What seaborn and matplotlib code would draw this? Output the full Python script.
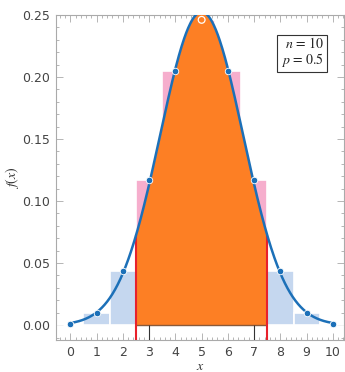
import numpy as np
import pandas as pd
import matplotlib
matplotlib.use("Agg")
import matplotlib.pyplot as plt
import seaborn as sns
from matplotlib.ticker import MultipleLocator

# binomial n=10, p=0.5
n_trials = 10
p_success = 0.5
k_values = [0, 1, 2, 3, 4, 5, 6, 7, 8, 9, 10]
pmf_values = [0.001, 0.010, 0.044, 0.117, 0.205, 0.246, 0.205, 0.117, 0.044, 0.010, 0.001]
in_range = ["out", "out", "out", "in", "in", "in", "in", "in", "out", "out", "out"]
lower_cut, upper_cut = 2.5, 7.5

sns.set_theme(style="white")
plt.rcParams["mathtext.fontset"] = "stix"

df = pd.DataFrame({"k": k_values, "pmf": pmf_values, "group": in_range})

# normal approximation
mu = n_trials * p_success
sigma = np.sqrt(n_trials * p_success * (1 - p_success))
xs = np.linspace(0, 10, 400)
curve = pd.DataFrame({"x": xs, "y": np.exp(-0.5 * ((xs - mu) / sigma) ** 2) / (sigma * np.sqrt(2 * np.pi))})

fig = plt.figure(figsize=(3.45, 3.72), dpi=100)
ax = fig.add_axes([0.162, 0.086, 0.835, 0.874])

sns.barplot(data=df, x="k", y="pmf", hue="group", native_scale=True, width=1, dodge=False,
            palette={"out": "#c5d7ef", "in": "#f6aecd"}, saturation=1, edgecolor="white",
            linewidth=1.2, legend=False, ax=ax)

mask = (curve["x"] >= lower_cut) & (curve["x"] <= upper_cut)
ax.fill_between(curve["x"][mask], 0, curve["y"][mask], color="#fd7f24", lw=0, zorder=3)
ax.hlines(0, lower_cut, upper_cut, color="#8a5a3a", lw=1, zorder=4)
ax.vlines([3, 7], -0.012, 0, color="#333333", lw=0.8, zorder=4)

y_lo = curve["y"][np.argmin(np.abs(curve["x"] - lower_cut))]
ax.vlines([lower_cut, upper_cut], -0.012, y_lo, color="#e8212b", lw=1.5, zorder=5)

sns.lineplot(data=curve, x="x", y="y", color="#1c70b8", lw=1.8, ax=ax, zorder=6)
peak = df["pmf"] == df["pmf"].max()
sns.scatterplot(data=df[~peak], x="k", y="pmf", color="#1c70b8", s=22, edgecolor="white",
                linewidth=0.6, ax=ax, zorder=7)
sns.scatterplot(data=df[peak], x="k", y="pmf", color="none", s=24, edgecolor="white",
                linewidth=0.9, ax=ax, zorder=7)

ax.set_xlim(-0.55, 10.42)
ax.set_ylim(-0.012, 0.25)
ax.xaxis.set_major_locator(MultipleLocator(1))
ax.xaxis.set_minor_locator(MultipleLocator(0.2))
ax.yaxis.set_major_locator(MultipleLocator(0.05))
ax.yaxis.set_minor_locator(MultipleLocator(0.01))
ax.yaxis.set_major_formatter(matplotlib.ticker.FormatStrFormatter("%.2f"))

ax.tick_params(which="both", direction="in", top=True, right=True, bottom=True, left=True,
               color="#aaaaaa", labelsize=9, labelcolor="#444444", width=0.6)
ax.tick_params(which="major", length=5, pad=4)
ax.tick_params(which="minor", length=2.5)
for s in ax.spines.values():
    s.set_color("#aaaaaa")
    s.set_linewidth(0.8)

ax.set_xlabel("$x$", fontsize=10, labelpad=0, color="#333333")
ax.set_ylabel("$f(x)$", fontsize=10, labelpad=1, color="#333333")

ax.text(0.93, 0.935, f"$n$ = {n_trials}\n$p$ = {p_success}", transform=ax.transAxes,
        ha="right", va="top", fontsize=10, linespacing=1.0, family="STIXGeneral",
        bbox=dict(boxstyle="square,pad=0.25", fc="white", ec="#333333", lw=0.8))

fig.savefig("out.png", dpi=100)
